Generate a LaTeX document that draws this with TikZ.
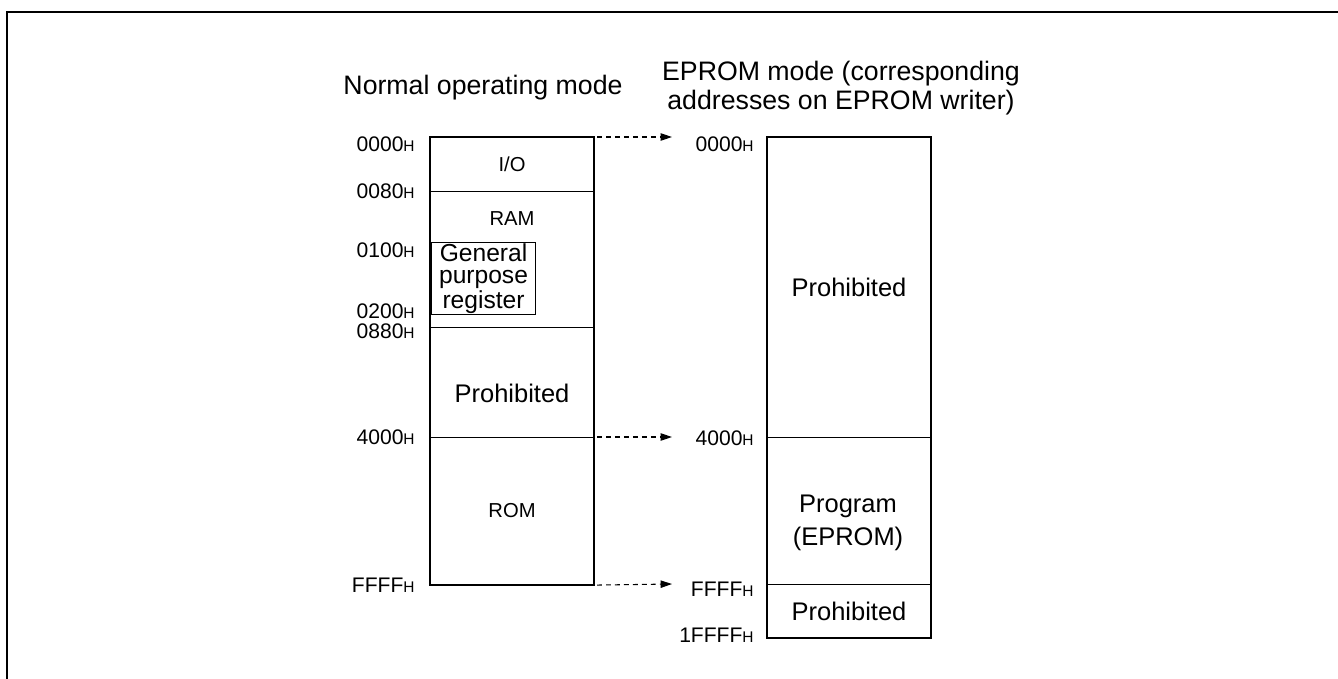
\documentclass[tikz,border=0pt]{standalone}
\usepackage{fontspec}
\setmainfont{Liberation Sans}
\usetikzlibrary{arrows.meta,positioning}

\newlength{\du}
\setlength{\du}{0.02cm}

\newcommand{\hexaddr}[1]{#1{\fontsize{8.8}{9}\selectfont H}}

\tikzset{
  region/.style={draw, line width=0.6pt, minimum width=163\du, inner sep=0pt, anchor=north west},
  outerbox/.style={draw, line width=1.2pt},
  bigtext/.style={font=\fontsize{14.5}{17}\selectfont, align=center, inner sep=0pt},
  titletext/.style={font=\fontsize{15.2}{16.5}\selectfont, align=center, inner sep=0pt},
  smalltext/.style={font=\fontsize{11.5}{13}\selectfont, inner sep=0pt},
  addr/.style={font=\fontsize{12}{13}\selectfont, anchor=east, inner sep=0pt},
  maparrow/.style={line width=0.6pt, dash pattern=on 2.8pt off 2.3pt, -{Triangle[length=6.5pt,width=4.2pt]}}
}

\begin{document}
\begin{tikzpicture}[x=\du,y=-\du]
\useasboundingbox (0,0) rectangle (1338,679);
% frame
\draw[line width=2\du] (7,679) -- (7,12) -- (1338,12);

% titles
\node[titletext] (normtitle) at (483,88) {Normal operating mode};
\node[titletext] (epromtitle) at (841,88) {EPROM mode (corresponding\\addresses on EPROM writer)};

% normal operating mode
\node[region, smalltext, minimum height=54\du] (io) at (430,137) {I/O};
\node[region, minimum height=136\du] (ram) at (430,191) {};
\node[region, minimum height=110\du] (lprohib) at (430,327) {};
\node[region, smalltext, minimum height=147\du] (rom) at (430,437) {ROM};
\draw[outerbox] (io.north west) rectangle (rom.south east);
\node[smalltext] (ramtext) at (512,219) {RAM};
\node[draw, line width=0.6pt, minimum width=104\du, minimum height=72\du, inner sep=0pt, anchor=north west,
      align=center, font=\fontsize{14}{13}\selectfont] (gpreg) at (431,242) {General\\purpose\\register};
\node[bigtext] (lprohibtext) at (512,393) {Prohibited};

\node[addr] (l0000) at (415,144) {\hexaddr{0000}};
\node[addr] (l0080) at (415,191) {\hexaddr{0080}};
\node[addr] (l0100) at (415,250) {\hexaddr{0100}};
\node[addr] (l0200) at (415,311) {\hexaddr{0200}};
\node[addr] (l0880) at (415,331) {\hexaddr{0880}};
\node[addr] (l4000) at (415,437) {\hexaddr{4000}};
\node[addr] (lffff) at (415,585) {\hexaddr{FFFF}};

% EPROM mode
\node[region, bigtext, minimum height=300\du] (rprohib) at (767,137) {Prohibited};
\node[region, minimum height=147\du] (rprog) at (767,437) {};
\node[region, bigtext, minimum height=53\du] (rprohibb) at (767,584) {Prohibited};
\draw[outerbox] (rprohib.north west) rectangle (rprohibb.south east);
\node[bigtext, font=\fontsize{14.5}{19}\selectfont] (progtext) at (848,523) {Program\\(EPROM)};

\node[addr] (r0000) at (754,144) {\hexaddr{0000}};
\node[addr] (r4000) at (754,438) {\hexaddr{4000}};
\node[addr] (rffff) at (754,589) {\hexaddr{FFFF}};
\node[addr] (r1ffff) at (754,635) {\hexaddr{1FFFF}};

% address mapping
\draw[maparrow] ([xshift=3\du]io.north east) -- ([xshift=-95\du]rprohib.north west);
\draw[maparrow] ([xshift=3\du]rom.north east) -- ([xshift=-95\du]rprog.north west);
\draw[maparrow] ([xshift=3\du]rom.south east) -- ([xshift=-95\du]rprohibb.north west);
\end{tikzpicture}
\end{document}
